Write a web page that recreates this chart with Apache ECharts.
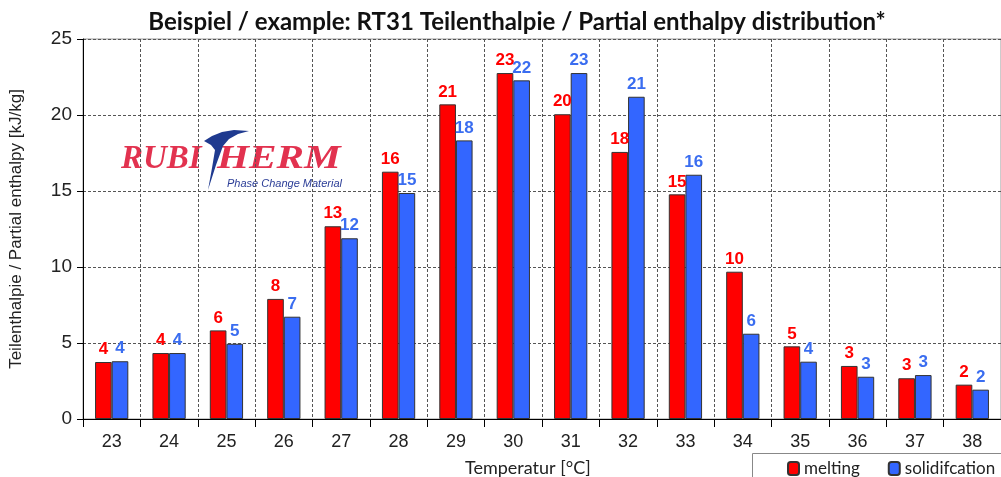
<!DOCTYPE html>
<html>
<head>
<meta charset="utf-8">
<script src="https://cdn.jsdelivr.net/npm/echarts@6/dist/echarts.min.js"></script>
<style>
  html, body { margin: 0; padding: 0; background: #fff; }
  #chart { width: 1001px; height: 477px; }
</style>
</head>
<body>
<div id="chart"></div>
<script>
const temperatures = ['23', '24', '25', '26', '27', '28', '29', '30', '31', '32', '33', '34', '35', '36', '37', '38'];
const melting = [3.75, 4.34, 5.83, 7.9, 12.68, 16.27, 20.7, 22.76, 20.05, 17.57, 14.78, 9.69, 4.78, 3.49, 2.68, 2.26];
const solidification = [3.8, 4.34, 4.95, 6.73, 11.89, 14.87, 18.33, 22.28, 22.76, 21.2, 16.07, 5.61, 3.77, 2.78, 2.89, 1.93];
const yTicks = [0, 5, 10, 15, 20, 25];

const gridColor = '#555';
const labelFont = '"Liberation Sans", Arial, sans-serif';

const chart = echarts.init(document.getElementById('chart'));

const barLabel = (color) => ({
  show: true,
  position: 'top',
  distance: 4,
  color: color,
  fontFamily: labelFont,
  fontWeight: 'bold',
  fontSize: 17,
  formatter: (p) => Math.round(p.value),
});

chart.setOption({
  animation: false,
  backgroundColor: '#fff',
  title: {
    text: 'Beispiel / example: RT31 Teilenthalpie / Partial enthalpy distribution*',
    left: 512,
    textAlign: 'center',
    top: 5,
    textStyle: {
      fontFamily: 'Lato',
      fontWeight: 'bold',
      fontSize: 24,
      color: '#111',
    },
  },
  legend: {
    left: 782,
    top: 455,
    width: 400,
    itemWidth: 11,
    itemHeight: 13,
    itemGap: 28,
    textStyle: {
      fontFamily: 'Lato',
      fontSize: 17,
      color: '#222',
    },
    data: ['melting', 'solidifcation'],
  },
  grid: {
    left: 83,
    right: 0,
    top: 39,
    bottom: 58,
    show: true,
    borderColor: '#999',
    borderWidth: 1,
  },
  xAxis: {
    type: 'category',
    data: temperatures,
    boundaryGap: true,
    axisLine: { show: true, lineStyle: { color: '#000', width: 1 } },
    axisTick: { show: true, alignWithLabel: false, length: 8, lineStyle: { color: '#000' } },
    axisLabel: {
      fontFamily: labelFont,
      fontSize: 18,
      color: '#222',
      margin: 14,
    },
    splitLine: { show: true, lineStyle: { color: gridColor, type: [3, 2], width: 1 } },
  },
  yAxis: {
    type: 'value',
    min: yTicks[0],
    max: yTicks[yTicks.length - 1],
    interval: 5,
    axisLine: { show: true, lineStyle: { color: '#000', width: 1 } },
    axisTick: { show: true, length: 6, lineStyle: { color: '#000' } },
    axisLabel: {
      fontFamily: labelFont,
      fontSize: 19,
      color: '#222',
      margin: 11,
    },
    splitLine: { show: true, lineStyle: { color: gridColor, type: [3, 2], width: 1 } },
    name: 'Teilenthalpie / Partial enthalpy [kJ/kg]',
    nameLocation: 'middle',
    nameGap: 58,
    nameTextStyle: {
      fontFamily: labelFont,
      fontSize: 17,
      color: '#222',
    },
  },
  series: [
    {
      name: 'melting',
      type: 'bar',
      data: melting,
      barGap: '0%',
      barCategoryGap: '42%',
      itemStyle: { color: '#ff0000', borderColor: '#333', borderWidth: 1 },
      label: barLabel('#ff0000'),
    },
    {
      name: 'solidifcation',
      type: 'bar',
      data: solidification,
      itemStyle: { color: '#3366ff', borderColor: '#333', borderWidth: 1 },
      label: barLabel('#3a6df0'),
    },
  ],
  graphic: [
    {
      type: 'text',
      x: 465,
      y: 468,
      style: {
        text: 'Temperatur [°C]',
        font: '18px Lato',
        fill: '#222',
        textVerticalAlign: 'middle',
      },
    },
    {
      type: 'rect',
      shape: { x: 752.5, y: 453.5, width: 300, height: 40 },
      style: { fill: 'none', stroke: '#888', lineWidth: 1 },
      z: 0,
    },
    {
      type: 'text',
      x: 121,
      y: 176,
      style: {
        text: 'RUBI',
        font: 'italic bold 33px "Liberation Serif", serif',
        fill: '#e2324f',
        textVerticalAlign: 'bottom',
      },
    },
    {
      type: 'text',
      x: 217,
      y: 176,
      scaleX: 1.25,
      style: {
        text: 'HERM',
        font: 'italic bold 33px "Liberation Serif", serif',
        fill: '#e2324f',
        textVerticalAlign: 'bottom',
      },
    },
    {
      type: 'polygon',
      shape: {
        points: [
          [204, 141], [212, 136], [222, 132], [234, 130], [249, 131],
          [238, 134], [229, 139], [223, 146], [216, 165], [208, 190],
          [212, 168], [215, 150], [211, 145],
        ],
      },
      style: { fill: '#1f3a8f' },
    },
    {
      type: 'text',
      x: 227,
      y: 184,
      style: {
        text: 'Phase Change Material',
        font: 'italic 11px "Liberation Sans", Arial, sans-serif',
        fill: '#2a3c96',
        textVerticalAlign: 'middle',
      },
    },
  ],
});
</script>
</body>
</html>
